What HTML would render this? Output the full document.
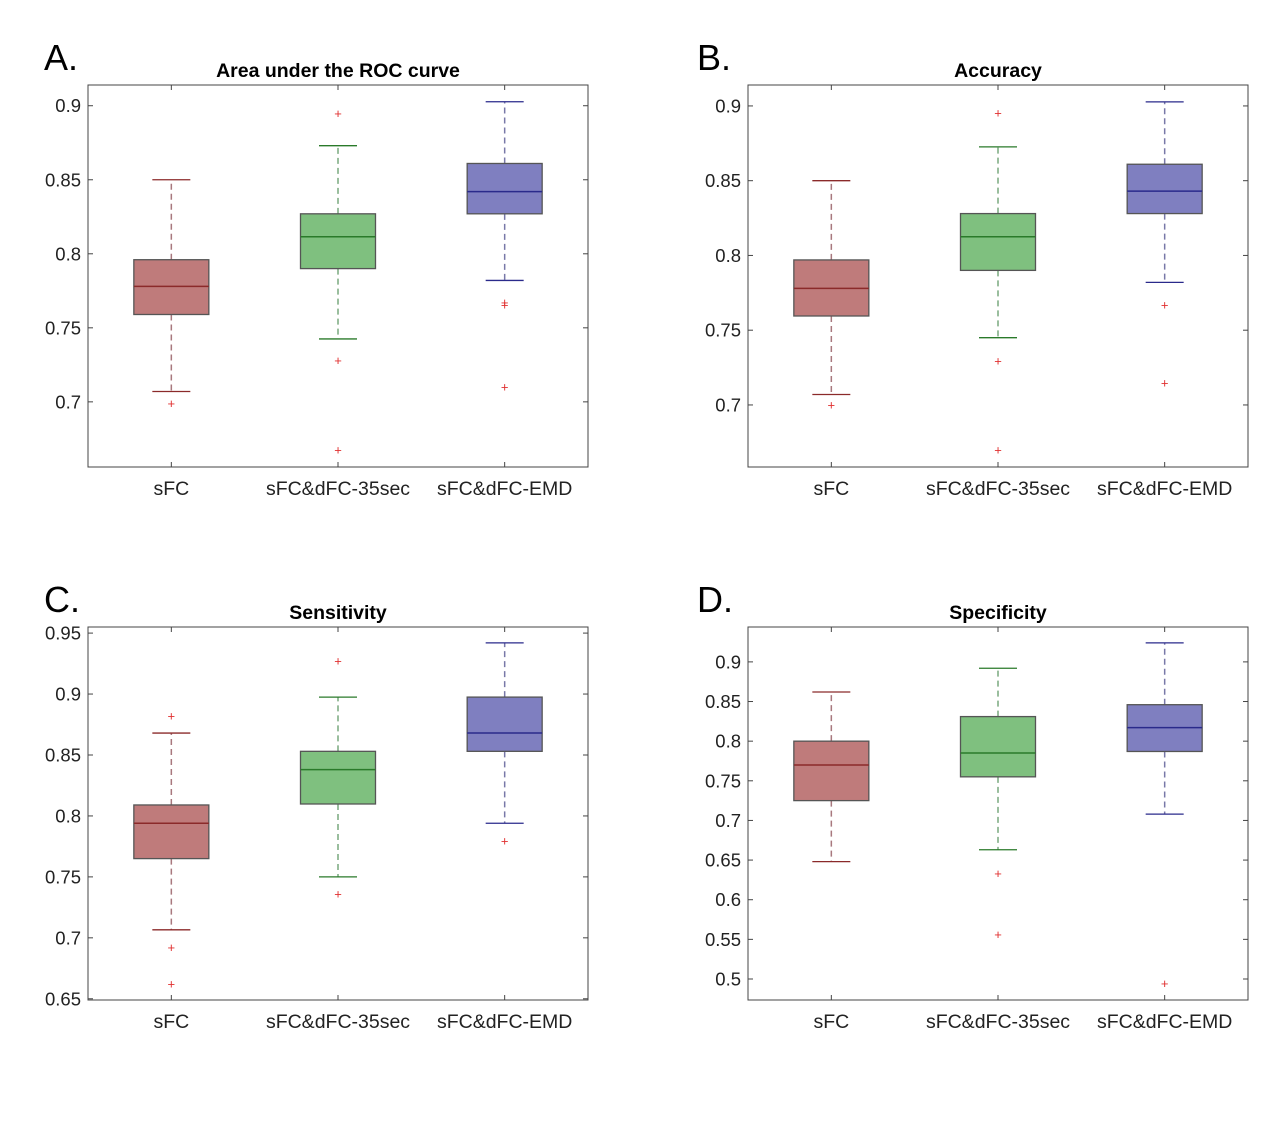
<!DOCTYPE html>
<html><head><meta charset="utf-8"><style>
body{margin:0;background:#fff;}
svg{display:block;font-family:"Liberation Sans",Arial,sans-serif;}
</style></head><body>
<svg id="fig" width="1273" height="1125"></svg>
<script>
const categories=["sFC","sFC&dFC-35sec","sFC&dFC-EMD"];
// [lowerWhisker, q1, median, q3, upperWhisker]
const aucStats=[[0.707,0.759,0.778,0.796,0.85],[0.7425,0.79,0.8115,0.827,0.873],[0.782,0.827,0.842,0.861,0.9027]];
const aucOut=[[0.699],[0.8946,0.728,0.6676],[0.767,0.7655,0.710]];
const accStats=[[0.707,0.7595,0.778,0.797,0.85],[0.745,0.79,0.8125,0.828,0.8726],[0.782,0.828,0.843,0.861,0.9027]];
const accOut=[[0.70],[0.8953,0.7295,0.67],[0.767,0.7147]];
const senStats=[[0.7066,0.765,0.794,0.809,0.868],[0.75,0.8098,0.838,0.853,0.8975],[0.794,0.853,0.868,0.8975,0.942]];
const senOut=[[0.882,0.692,0.662],[0.927,0.736],[0.7795]];
const speStats=[[0.648,0.725,0.77,0.80,0.862],[0.663,0.755,0.785,0.831,0.892],[0.708,0.787,0.817,0.846,0.924]];
const speOut=[[],[0.633,0.556],[0.494]];
const aucTicks=[0.7,0.75,0.8,0.85,0.9];
const accTicks=[0.7,0.75,0.8,0.85,0.9];
const senTicks=[0.65,0.7,0.75,0.8,0.85,0.9,0.95];
const speTicks=[0.5,0.55,0.6,0.65,0.7,0.75,0.8,0.85,0.9];

const NS="http://www.w3.org/2000/svg";
const svg=document.getElementById('fig');
function mk(t,a,p){const e=document.createElementNS(NS,t);for(const k in a)e.setAttribute(k,a[k]);(p||svg).appendChild(e);return e;}
const fills=["#bf7b7b","#7fc07f","#7f7fc0"];
const meds=["#8b2a2a","#2a7a2a","#2a2a8b"];
const whisk=["#a8787e","#78a87e","#7878a8"];

function panel(key,letter,letterX,title,L,T,H,ymin,ymax,ticks,stats,outs){
  const W=500,R=L+W,B=T+H;
  const g=mk('g',{});
  
  
  const y=v=>B-(v-ymin)/(ymax-ymin)*H;
  const x=i=>L+(i+0.5)/3*W;
  const lt=mk('text',{x:letterX,y:T-15,'font-size':36},g);lt.textContent=letter;
  
  const tt=mk('text',{x:L+W/2,y:T-8,'font-size':19.5,'font-weight':'bold','text-anchor':'middle'},g);tt.textContent=title;
  
  ticks.forEach(v=>{
    mk('line',{x1:L,x2:L+5,y1:y(v),y2:y(v),stroke:'#444'},g);
    mk('line',{x1:R,x2:R-5,y1:y(v),y2:y(v),stroke:'#444'},g);
    const t=mk('text',{x:L-7,y:y(v)+6.5,'font-size':18.5,'text-anchor':'end',fill:'#222'},g);t.textContent=String(v);
    
  });
  categories.forEach((c,i)=>{
    const cx=x(i);
    mk('line',{x1:cx,x2:cx,y1:B,y2:B-5,stroke:'#444'},g);
    mk('line',{x1:cx,x2:cx,y1:T,y2:T+5,stroke:'#444'},g);
    const t=mk('text',{x:cx,y:B+28,'font-size':19.5,'text-anchor':'middle',fill:'#222'},g);t.textContent=c;
    
    const s=stats[i];
    const w1=mk('line',{x1:cx,x2:cx,y1:y(s[3]),y2:y(s[4]),stroke:whisk[i],'stroke-width':1.5,'stroke-dasharray':'6,4'},g);
    
    const w2=mk('line',{x1:cx,x2:cx,y1:y(s[1]),y2:y(s[0]),stroke:whisk[i],'stroke-width':1.5,'stroke-dasharray':'6,4'},g);
    
    [s[0],s[4]].forEach(v=>mk('line',{x1:cx-19,x2:cx+19,y1:y(v),y2:y(v),stroke:meds[i],'stroke-width':1.3},g));
    const b=mk('rect',{x:cx-37.5,y:y(s[3]),width:75,height:y(s[1])-y(s[3]),fill:fills[i],stroke:'#555','stroke-width':1.3},g);
    
    const m=mk('line',{x1:cx-37.5,x2:cx+37.5,y1:y(s[2]),y2:y(s[2]),stroke:meds[i],'stroke-width':1.5},g);
    
    outs[i].forEach(v=>{
      const o=mk('text',{x:cx,y:y(v)+4.5,'font-size':13,'text-anchor':'middle',fill:'#e03030'},g);o.textContent='+';
      
    });
  });
  const f=mk('rect',{x:L,y:T,width:W,height:H,fill:'none',stroke:'#444','stroke-width':1},g);
  
}
panel('auc','A.',44,'Area under the ROC curve',88,85,382,0.656,0.914,aucTicks,aucStats,aucOut);
panel('accuracy','B.',697,'Accuracy',748,85,382,0.6585,0.914,accTicks,accStats,accOut);
panel('sensitivity','C.',44,'Sensitivity',88,627,373,0.649,0.955,senTicks,senStats,senOut);
panel('specificity','D.',697,'Specificity',748,627,373,0.4735,0.944,speTicks,speStats,speOut);
</script>
</body></html>
